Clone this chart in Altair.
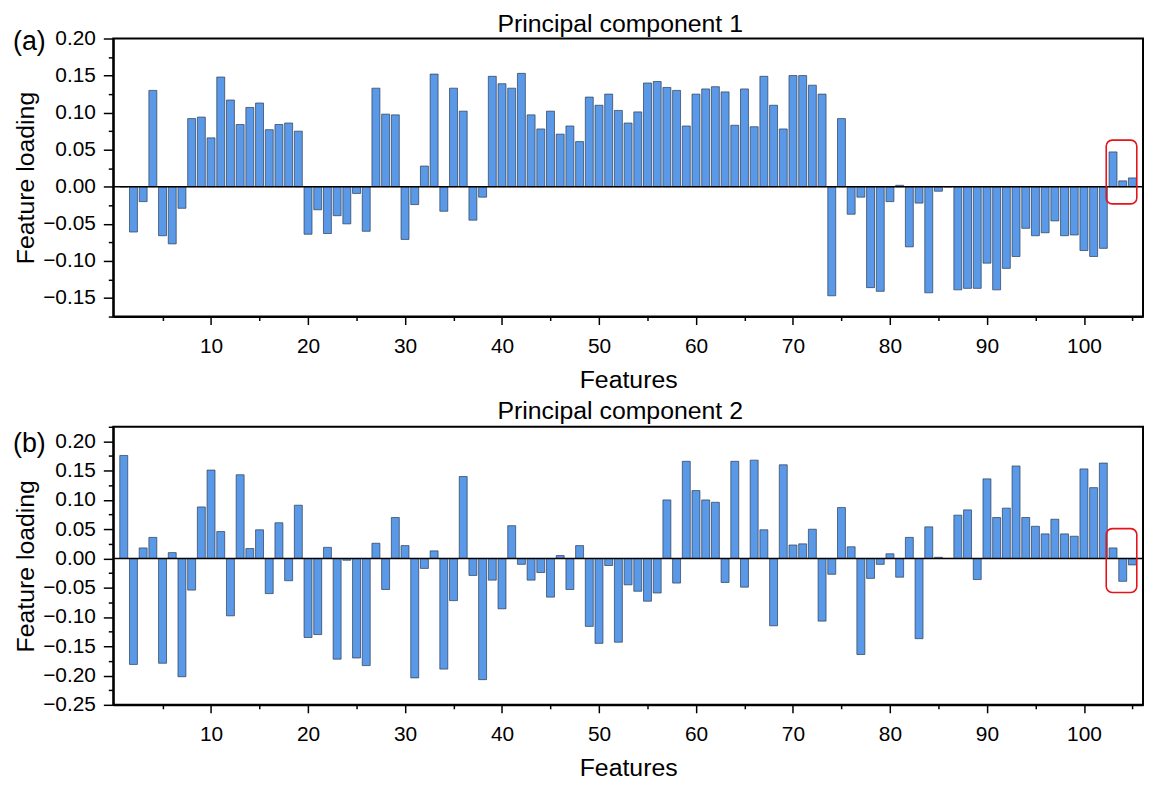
import altair as alt
import pandas as pd

FONT = "Liberation Sans"

features = list(range(1, 106))

pc1 = [0.0, -0.061, -0.020, 0.130, -0.066, -0.077, -0.029, 0.092, 0.094, 0.066,
       0.148, 0.117, 0.084, 0.107, 0.113, 0.077, 0.084, 0.086, 0.075, -0.064,
       -0.031, -0.063, -0.039, -0.050, -0.009, -0.060, 0.133, 0.098, 0.097, -0.071,
       -0.024, 0.028, 0.152, -0.033, 0.133, 0.102, -0.045, -0.014, 0.149, 0.139,
       0.133, 0.153, 0.097, 0.078, 0.102, 0.071, 0.082, 0.061, 0.121, 0.110,
       0.125, 0.103, 0.086, 0.101, 0.140, 0.142, 0.134, 0.130, 0.082, 0.125,
       0.132, 0.135, 0.128, 0.083, 0.132, 0.081, 0.149, 0.110, 0.078, 0.150,
       0.150, 0.137, 0.125, -0.147, 0.092, -0.037, -0.014, -0.136, -0.141, -0.020,
       0.002, -0.081, -0.022, -0.143, -0.006, 0.0, -0.139, -0.137, -0.137, -0.103,
       -0.139, -0.110, -0.094, -0.056, -0.066, -0.062, -0.046, -0.066, -0.065, -0.086,
       -0.094, -0.083, 0.047, 0.008, 0.012]

pc2 = [0.176, -0.181, 0.018, 0.036, -0.179, 0.010, -0.202, -0.054, 0.088, 0.151,
       0.046, -0.098, 0.143, 0.017, 0.049, -0.060, 0.061, -0.038, 0.091, -0.135,
       -0.130, 0.019, -0.172, -0.003, -0.170, -0.183, 0.026, -0.053, 0.070, 0.022,
       -0.204, -0.017, 0.013, -0.189, -0.072, 0.140, -0.029, -0.207, -0.037, -0.086,
       0.056, -0.010, -0.037, -0.024, -0.066, 0.005, -0.053, 0.022, -0.116, -0.145,
       -0.012, -0.143, -0.045, -0.056, -0.073, -0.059, 0.100, -0.042, 0.166, 0.116,
       0.100, 0.096, -0.041, 0.166, -0.049, 0.168, 0.049, -0.115, 0.160, 0.023,
       0.025, 0.050, -0.107, -0.027, 0.087, 0.020, -0.164, -0.034, -0.010, 0.008,
       -0.032, 0.036, -0.137, 0.054, 0.002, 0.0, 0.074, 0.083, -0.036, 0.136,
       0.070, 0.086, 0.158, 0.070, 0.055, 0.042, 0.067, 0.042, 0.038, 0.153,
       0.121, 0.163, 0.018, -0.039, -0.011]

major_x = [10, 20, 30, 40, 50, 60, 70, 80, 90, 100]
minor_x = [5, 15, 25, 35, 45, 55, 65, 75, 85, 95, 105]

pc1_ticks = [-0.15, -0.10, -0.05, 0.0, 0.05, 0.10, 0.15, 0.20]
pc1_minor = [-0.175, -0.125, -0.075, -0.025, 0.025, 0.075, 0.125, 0.175]
pc2_ticks = [-0.25, -0.20, -0.15, -0.10, -0.05, 0.0, 0.05, 0.10, 0.15, 0.20]
pc2_minor = [-0.225, -0.175, -0.125, -0.075, -0.025, 0.025, 0.075, 0.125, 0.175, 0.225]

highlight_x = [102.3, 105.45]
pc1_box_y = [-0.023, 0.063]
pc2_box_y = [-0.058, 0.051]

X_DOMAIN = [0.43, 105.58]
W = 1037


def panel(values, title, label, y_domain, ticks, minor, box_y, label_y, h, t_offset):
    df = pd.DataFrame({"feature": features, "value": values})
    xs = alt.Scale(domain=X_DOMAIN, nice=False, zero=False)
    ys = alt.Scale(domain=y_domain, nice=False, zero=False)

    bars = alt.Chart(df).mark_bar(
        width=8, color="#5a99e8", stroke="#2b3a4f", strokeWidth=0.7
    ).encode(
        x=alt.X("feature:Q", scale=xs,
                axis=alt.Axis(values=major_x, format="d", title="Features",
                              tickSize=8, labelPadding=11, titlePadding=11,
                              labelFontSize=21, titleFontSize=25, orient="bottom")),
        y=alt.Y("value:Q", scale=ys,
                axis=alt.Axis(values=ticks, format=".2f", title="Feature loading",
                              tickSize=10, labelPadding=8,
                              titleX=-88, titleY=h / 2, titleAngle=270,
                              titleAlign="center", titleBaseline="middle",
                              labelFontSize=21, titleFontSize=25, orient="left")),
        y2=alt.datum(0),
    )

    zero = alt.Chart(pd.DataFrame({"z": [0.0]})).mark_rule(
        color="black", strokeWidth=1.6
    ).encode(y=alt.Y("z:Q", scale=ys, axis=None))

    box = alt.Chart(pd.DataFrame({
        "x1": [highlight_x[0]], "x2": [highlight_x[1]],
        "y1": [box_y[0]], "y2": [box_y[1]],
    })).mark_rect(
        fillOpacity=0, stroke="#e3141b", strokeWidth=1.6, cornerRadius=6
    ).encode(
        x=alt.X("x1:Q", scale=xs, axis=None), x2="x2:Q",
        y=alt.Y("y1:Q", scale=ys, axis=None), y2="y2:Q",
    )

    minor_layer = alt.Chart(df).mark_point(opacity=0).encode(
        x=alt.X("feature:Q", scale=xs,
                axis=alt.Axis(values=minor_x, labels=False, domain=False,
                              tickSize=4, title=None, orient="bottom")),
        y=alt.Y("value:Q", scale=ys,
                axis=alt.Axis(values=minor, labels=False, domain=False,
                              tickSize=5, title=None, orient="left")),
    )

    lab = alt.Chart(pd.DataFrame({"t": [label]})).mark_text(
        align="left", baseline="middle", fontSize=27, font=FONT, color="black"
    ).encode(text="t:N", x=alt.value(-101), y=alt.value(label_y))

    return alt.layer(bars, zero, box, minor_layer, lab).resolve_axis(
        x="independent", y="independent"
    ).properties(
        width=W, height=h,
        title=alt.TitleParams(title, fontSize=25, font=FONT, fontWeight="normal",
                              anchor="middle", frame="group", offset=t_offset,
                              dx=-8, color="black"),
    )


pa = panel(pc1, "Principal component 1", "(a)", [-0.175, 0.20], pc1_ticks,
           pc1_minor, pc1_box_y, 4, 280, -9)
pb = panel(pc2, "Principal component 2", "(b)", [-0.25, 0.225], pc2_ticks,
           pc2_minor, pc2_box_y, 17, 280, 2)

chart = alt.vconcat(pa, pb, spacing=5).properties(
    padding={"left": 4, "top": 0, "right": 0, "bottom": -3}
).configure(
    font=FONT
).configure_view(
    stroke="black", strokeWidth=2
).configure_axis(
    domainColor="black", domainWidth=2, tickColor="black", tickWidth=1.5,
    labelColor="black", titleColor="black", labelFont=FONT, titleFont=FONT,
    titleFontWeight="normal", grid=False
)

chart.save("out.html", embed_options={"renderer": "svg", "actions": False})
